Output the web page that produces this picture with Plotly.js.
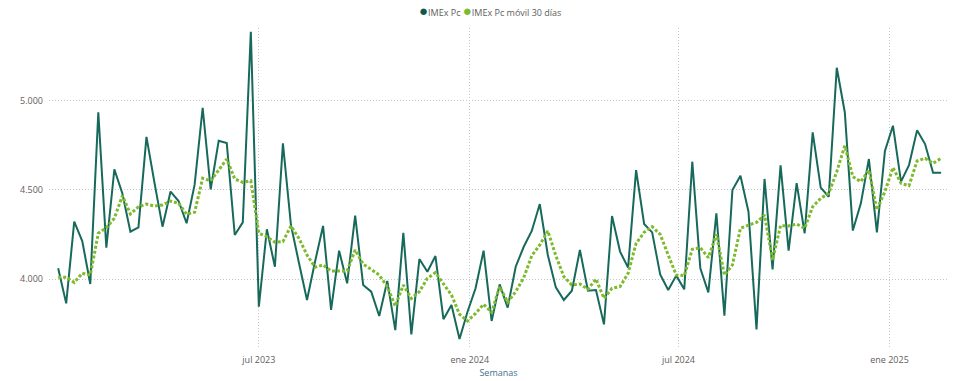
<!DOCTYPE html>
<html>
<head>
<meta charset="utf-8">
<script src="https://cdn.plot.ly/plotly-3.0.1.min.js"></script>
<style>html,body{margin:0;padding:0;background:#fff;}#chart{width:960px;height:381px;}</style>
</head>
<body>
<div id="chart"></div>
<script>
// Weekly dates (Semanas)
const weeks = [
"2023-01-07","2023-01-14","2023-01-21","2023-01-28","2023-02-04","2023-02-11","2023-02-18","2023-02-25",
"2023-03-04","2023-03-11","2023-03-18","2023-03-25","2023-04-01","2023-04-08","2023-04-15","2023-04-22",
"2023-04-29","2023-05-06","2023-05-13","2023-05-20","2023-05-27","2023-06-03","2023-06-10","2023-06-17",
"2023-06-24","2023-07-01","2023-07-08","2023-07-15","2023-07-22","2023-07-29","2023-08-05","2023-08-12",
"2023-08-19","2023-08-26","2023-09-02","2023-09-09","2023-09-16","2023-09-23","2023-09-30","2023-10-07",
"2023-10-14","2023-10-21","2023-10-28","2023-11-04","2023-11-11","2023-11-18","2023-11-25","2023-12-02",
"2023-12-09","2023-12-16","2023-12-23","2023-12-30","2024-01-06","2024-01-13","2024-01-20","2024-01-27",
"2024-02-03","2024-02-10","2024-02-17","2024-02-24","2024-03-02","2024-03-09","2024-03-16","2024-03-23",
"2024-03-30","2024-04-06","2024-04-13","2024-04-20","2024-04-27","2024-05-04","2024-05-11","2024-05-18",
"2024-05-25","2024-06-01","2024-06-08","2024-06-15","2024-06-22","2024-06-29","2024-07-06","2024-07-13",
"2024-07-20","2024-07-27","2024-08-03","2024-08-10","2024-08-17","2024-08-24","2024-08-31","2024-09-07",
"2024-09-14","2024-09-21","2024-09-28","2024-10-05","2024-10-12","2024-10-19","2024-10-26","2024-11-02",
"2024-11-09","2024-11-16","2024-11-23","2024-11-30","2024-12-07","2024-12-14","2024-12-21","2024-12-28",
"2025-01-04","2025-01-11","2025-01-18","2025-01-25","2025-02-01","2025-02-08","2025-02-15"
];

// IMEx Pc (weekly)
const imexPc = [
4060,3863,4322,4213,3972,4937,4176,4616,4480,4266,4290,4798,4540,4294,4491,4438,
4313,4530,4962,4504,4777,4764,4247,4318,5389,3844,4279,4069,4762,4303,4090,3882,
4097,4298,3826,4159,3976,4356,3966,3929,3792,3989,3713,4260,3689,4112,4041,4129,
3774,3854,3663,3816,3948,4159,3764,3970,3839,4069,4181,4270,4421,4135,3953,3882,
3934,4163,3934,3938,3745,4354,4154,4064,4612,4309,4262,4026,3938,4019,3942,4659,
4060,3925,4369,3794,4500,4580,4378,3717,4562,4054,4638,4159,4539,4257,4824,4513,
4462,5187,4937,4272,4425,4674,4262,4719,4861,4547,4640,4835,4758,4597,4597
];

// IMEx Pc móvil 30 días
const imexMovil = [
4010,4010,3980,4032,4022,4257,4288,4341,4468,4365,4406,4421,4410,4416,4438,4425,
4364,4375,4566,4551,4612,4674,4562,4543,4552,4257,4238,4206,4210,4298,4228,4135,
4066,4079,4045,4047,4045,4163,4083,4054,4022,3957,3848,3966,3891,3929,4004,4036,
3976,3910,3802,3764,3807,3858,3813,3957,3869,3929,4007,4131,4191,4270,4131,4013,
3966,3972,3942,4000,3891,3948,3957,4032,4200,4262,4294,4251,4135,4022,4019,4167,
4176,4120,4251,4022,4079,4285,4303,4318,4360,4107,4300,4298,4309,4285,4406,4453,
4481,4603,4749,4575,4547,4612,4388,4491,4626,4538,4524,4663,4678,4650,4678
];

const xTickVals = ["2023-07-01","2024-01-01","2024-07-01","2025-01-01"];
const xTickText = ["jul 2023","ene 2024","jul 2024","ene 2025"];
const yTickVals = [4000,4500,5000];

const seriesNames = ["IMEx Pc","IMEx Pc móvil 30 días"];
const colMain = "#17695b";
const colMA = "#7dba2d";
const fontFam = "'Open Sans', 'Noto Sans', sans-serif";

const traces = [
  {x: weeks, y: imexPc, type: "scatter", mode: "lines", name: seriesNames[0],
   line: {color: colMain, width: 2}, showlegend: false},
  {x: weeks, y: imexMovil, type: "scatter", mode: "lines", name: seriesNames[1],
   line: {color: colMA, width: 3, dash: "3px,2px"}, showlegend: false}
];

const layout = {
  width: 960, height: 381,
  margin: {l: 49, r: 12, t: 28, b: 34},
  paper_bgcolor: "#ffffff", plot_bgcolor: "#ffffff",
  separators: ",.",
  font: {family: fontFam, size: 9, color: "#605e5c"},
  showlegend: false,
  xaxis: {
    type: "date",
    range: ["2022-12-30", "2025-02-21"],
    tickmode: "array", tickvals: xTickVals, ticktext: xTickText,
    showgrid: true, gridcolor: "#c6c6c6", griddash: "1px,2px", gridwidth: 1,
    zeroline: false, showline: false, ticks: "",
    tickfont: {family: fontFam, size: 9, color: "#605e5c"},
    ticklabelstandoff: 6,
    title: {text: "Semanas", font: {family: fontFam, size: 9, color: "#44708a"}, standoff: 4}
  },
  yaxis: {
    range: [3618, 5410],
    tickmode: "array", tickvals: yTickVals,
    tickformat: ",.0f",
    showgrid: true, gridcolor: "#c6c6c6", griddash: "1px,2px", gridwidth: 1,
    zeroline: false, showline: false, ticks: "",
    tickfont: {family: fontFam, size: 9, color: "#605e5c"},
    ticklabelstandoff: 5
  },
  annotations: [{
    xref: "paper", yref: "paper", x: 0.491, y: 1.055,
    xanchor: "center", yanchor: "middle", showarrow: false,
    text: "<span style='color:#0d5a4c;font-size:15px'>●</span>" + seriesNames[0] +
          " <span style='color:" + colMA + ";font-size:15px'>●</span>" + seriesNames[1],
    font: {family: fontFam, size: 9, color: "#605e5c"}
  }]
};

Plotly.newPlot("chart", traces, layout, {displayModeBar: false, staticPlot: true});
</script>
</body>
</html>
